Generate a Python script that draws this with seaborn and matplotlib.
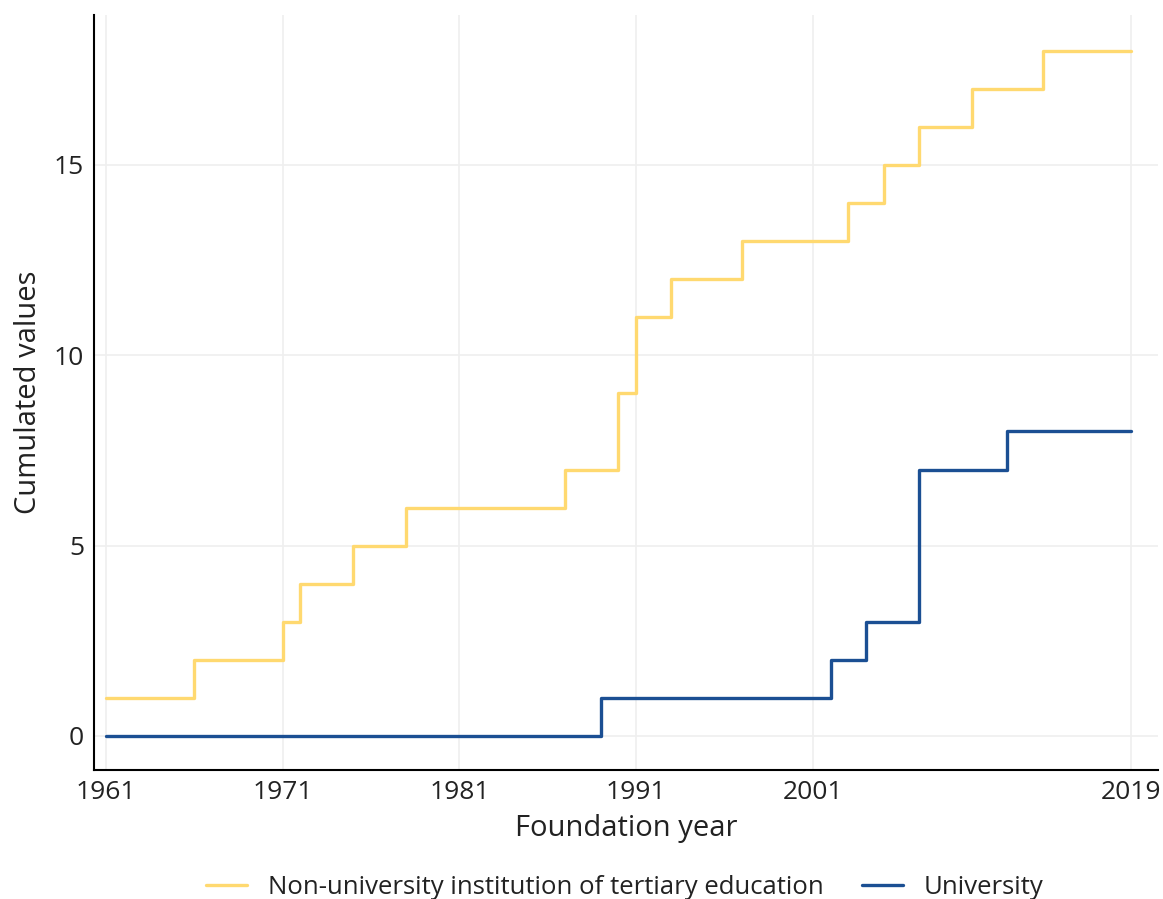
import matplotlib
matplotlib.use("Agg")
import matplotlib.pyplot as plt
import seaborn as sns
import pandas as pd

# cumulated foundations per type
nonuni_years = [1961, 1966, 1971, 1972, 1975, 1978, 1987, 1990, 1991, 1993,
                1997, 2003, 2005, 2007, 2010, 2014, 2019]
nonuni_values = [1, 2, 3, 4, 5, 6, 7, 9, 11, 12, 13, 14, 15, 16, 17, 18, 18]
uni_years = [1961, 1989, 2002, 2004, 2007, 2012, 2019]
uni_values = [0, 1, 2, 3, 7, 8, 8]

labels = ["Non-university institution of tertiary education", "University"]
colors = ["#FFD970", "#1B4F93"]
x_ticks = [1961, 1971, 1981, 1991, 2001, 2019]
y_ticks = [0, 5, 10, 15]

df = pd.concat([
    pd.DataFrame({"year": nonuni_years, "value": nonuni_values, "type": labels[0]}),
    pd.DataFrame({"year": uni_years, "value": uni_values, "type": labels[1]}),
])

sns.set_style("white")
plt.rcParams["font.family"] = ["Open Sans", "DejaVu Sans"]

fig = plt.figure(figsize=(11.63, 8.99), dpi=100)
ax = fig.add_axes([0.0808, 0.1435, 0.9149, 0.8398])

sns.lineplot(data=df, x="year", y="value", hue="type", hue_order=labels,
             palette=colors, drawstyle="steps-post", linewidth=2.4, ax=ax)

ax.set_xlim(1960.32, 2020.53)
ax.set_ylim(-0.893, 18.94)
ax.set_xticks(x_ticks)
ax.set_yticks(y_ticks)
ax.grid(True, color="#efefef", linewidth=1.2)
ax.set_axisbelow(True)
for side in ["top", "right"]:
    ax.spines[side].set_visible(False)
for side in ["left", "bottom"]:
    ax.spines[side].set_color("black")
    ax.spines[side].set_linewidth(1.5)
ax.tick_params(axis="both", length=4, width=1.2, color="#333333",
               labelsize=19, labelcolor="#222222", pad=3)
ax.set_xlabel("Foundation year", fontsize=21, color="#222222", labelpad=7)
ax.set_ylabel("Cumulated values", fontsize=21, color="#222222", labelpad=8)

ax.legend(loc="center", bbox_to_anchor=(0.537, 0.013), bbox_transform=fig.transFigure,
          ncol=2, frameon=False, fontsize=18.5, handlelength=1.6, handletextpad=0.8,
          columnspacing=1.5, labelcolor="#222222")

fig.savefig("out.png", dpi=100)
